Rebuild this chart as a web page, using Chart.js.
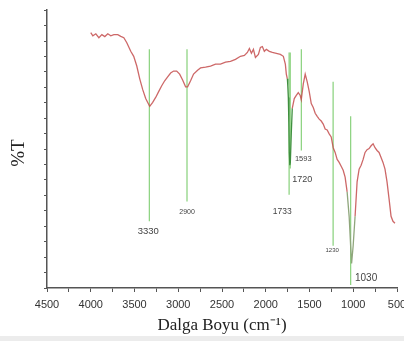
<!DOCTYPE html>
<html>
<head>
<meta charset="utf-8">
<script src="https://cdn.jsdelivr.net/npm/chart.js@4.4.1/dist/chart.umd.min.js"></script>
<style>
html, body { margin: 0; padding: 0; background: #fff; }
#wrap { width: 404px; height: 341px; position: relative; }
</style>
</head>
<body>
<div id="wrap"><canvas id="myChart"></canvas></div>
<script>
// FTIR spectrum, wavenumber (cm-1) vs %T
var wavenumbers = [4000, 3976, 3942, 3907, 3873, 3839, 3805, 3771, 3736, 3691, 3657, 3622, 3588, 3543, 3509, 3474, 3440, 3406, 3372, 3349,
    3326, 3292, 3258, 3224, 3189, 3155, 3121, 3087, 3053, 3018, 2984, 2950, 2916, 2893, 2859, 2825, 2779, 2745, 2688, 2631,
    2574, 2517, 2460, 2403, 2346, 2289, 2244, 2210, 2187, 2164, 2141, 2118, 2084, 2061, 2039, 2016, 1993, 1959, 1925, 1879,
    1833, 1799, 1776, 1765, 1753, 1748, 1742, 1736, 1731, 1725, 1719, 1708, 1697, 1674, 1651, 1628, 1606, 1594, 1571, 1549,
    1526, 1503, 1480, 1457, 1435, 1412, 1389, 1366, 1343, 1321, 1298, 1275, 1252, 1229, 1207, 1184, 1161, 1138, 1115, 1093,
    1070, 1047, 1030, 1019, 1001, 979, 956, 933, 910, 887, 865, 842, 819, 796, 773, 751, 728, 705, 682, 660,
    637, 614, 591, 568, 546, 523];
var transmittance = [91.9, 90.8, 91.5, 90.1, 91.2, 90.5, 91.5, 90.8, 91.2, 91.2, 90.6, 90.1, 88.3, 85.2, 83.4, 79.9, 75.3, 71.4, 68.2, 66.8,
    65.4, 66.8, 68.6, 70.7, 72.8, 74.6, 76.0, 77.4, 78.1, 78.1, 77.0, 74.9, 72.4, 72.4, 74.6, 77.0, 78.4, 79.2, 79.5, 79.9,
    80.6, 80.6, 81.3, 81.6, 82.3, 83.4, 83.7, 84.8, 86.2, 84.5, 85.9, 83.0, 84.1, 86.6, 86.9, 85.2, 85.9, 85.2, 84.8, 84.5,
    84.1, 83.4, 80.6, 77.0, 75.3, 72.8, 68.6, 59.7, 48.8, 44.2, 45.2, 55.8, 64.7, 68.2, 69.3, 70.3, 69.3, 67.8, 73.5, 77.0,
    74.2, 70.7, 66.4, 65.0, 62.9, 61.8, 60.8, 60.1, 59.0, 57.2, 56.9, 55.5, 54.4, 50.5, 48.8, 46.3, 45.2, 43.8, 42.4, 39.9,
    34.6, 25.8, 15.2, 8.8, 15.2, 25.8, 38.2, 42.8, 44.2, 46.3, 48.8, 49.8, 50.2, 51.2, 51.9, 50.5, 49.5, 48.8, 47.0, 45.2,
    42.8, 38.2, 32.2, 25.8, 24.0, 23.3];

// marked bands: marker line from top to bottom (%T), label text + position
var bandWn = [3330, 2900, 1733, 1720, 1593, 1230, 1030];
var bandTop = [85.9, 85.9, 84.8, 84.8, 85.9, 74.2, 61.8];
var bandBottom = [24.0, 31.1, 33.6, 43.0, 49.5, 15.2, 1.1];
var bandText = ['3330', '2900', '1733', '1720', '1593', '1230', '1030'];
var textWn = [3343, 2899, 1811, 1583, 1571, 1241, 853];
var textY = [20.5, 27.2, 27.6, 38.9, 46.3, 13.4, 3.5];
var textSize = [9.5, 7, 8.5, 9, 7.5, 6, 10];

var xTicks = [4500, 4000, 3500, 3000, 2500, 2000, 1500, 1000, 500];

var spectrum = wavenumbers.map(function (w, i) { return { x: w, y: transmittance[i] }; });

var datasets = [{
    label: 'spektrum',
    data: spectrum,
    borderColor: 'rgba(196, 78, 78, 0.85)',
    borderWidth: 1.3,
    pointRadius: 0,
    tension: 0,
    order: 0,
    segment: {
        borderColor: function (ctx) {
            var x = ctx.p0.parsed.x;
            if (x <= 1760 && x >= 1700) return '#3f8f3f';
            if (x <= 1075 && x >= 985) return '#8fa67c';
            return undefined;
        }
    }
}];

for (var i = 0; i < bandWn.length; i++) {
    datasets.push({
        label: bandText[i],
        data: [{ x: bandWn[i], y: bandTop[i] }, { x: bandWn[i], y: bandBottom[i] }],
        borderColor: 'rgba(125, 205, 110, 0.85)',
        borderWidth: 1.3,
        pointRadius: 0,
        order: 1
    });
}

// writes the band numbers next to the marker lines, and the %T axis name
var bandLabelPlugin = {
    id: 'bandLabels',
    afterDatasetsDraw: function (chart) {
        var c = chart.ctx;
        var sx = chart.scales.x, sy = chart.scales.y;
        c.save();
        c.fillStyle = '#444';
        c.textAlign = 'center';
        c.textBaseline = 'middle';
        for (var i = 0; i < bandText.length; i++) {
            c.font = textSize[i] + 'px "Liberation Sans", Arial, sans-serif';
            c.fillText(bandText[i], sx.getPixelForValue(textWn[i]), sy.getPixelForValue(textY[i]));
        }
        c.translate(19, 153);
        c.rotate(-Math.PI / 2);
        c.fillStyle = '#222';
        c.font = '19px "Liberation Serif", "Times New Roman", serif';
        c.fillText('%T', 0, 0);
        c.restore();
    }
};

// light grey strip along the bottom edge
var bottomStrip = {
    id: 'bottomStrip',
    beforeDraw: function (chart) {
        var c = chart.ctx;
        c.save();
        c.fillStyle = '#ececec';
        c.fillRect(0, 336, chart.width, chart.height - 336);
        c.restore();
    }
};

var ctx = document.getElementById('myChart').getContext('2d');
var myChart = new Chart(ctx, {
    type: 'line',
    data: { datasets: datasets },
    plugins: [bottomStrip, bandLabelPlugin],
    options: {
        responsive: true,
        maintainAspectRatio: false,
        animation: false,
        layout: { padding: { top: 5, right: 7, left: 0, bottom: 0 } },
        plugins: {
            legend: { display: false },
            tooltip: { enabled: false }
        },
        scales: {
            x: {
                type: 'linear',
                reverse: true,
                min: 500,
                max: 4500,
                afterFit: function (scale) {
                    scale.height = 53;
                    scale.paddingLeft = 0;
                    scale.paddingRight = 0;
                },
                grid: { drawOnChartArea: false, drawTicks: true, tickLength: 4, color: '#555', lineWidth: 1 },
                border: { display: true, color: '#555', width: 1.5 },
                ticks: {
                    stepSize: 250,
                    autoSkip: false,
                    maxRotation: 0,
                    padding: 6,
                    color: '#333',
                    font: { family: '"Liberation Sans", Arial, sans-serif', size: 11 },
                    callback: function (v) { return xTicks.indexOf(v) >= 0 ? String(v) : ''; }
                },
                title: {
                    display: true,
                    text: 'Dalga Boyu (cm⁻¹)',
                    color: '#222',
                    padding: { top: 0, bottom: 5 },
                    font: { family: '"Liberation Serif", "Times New Roman", serif', size: 17 }
                }
            },
            y: {
                min: 0,
                max: 100,
                afterFit: function (scale) { scale.width = 47; },
                afterBuildTicks: function (scale) {
                    var t = [];
                    for (var k = 0; k <= 18; k++) t.push({ value: k * 100 / 18 });
                    scale.ticks = t;
                },
                grid: { drawOnChartArea: false, drawTicks: true, tickLength: 3, color: '#555', lineWidth: 1 },
                border: { display: true, color: '#555', width: 1.5 },
                ticks: { autoSkip: false, callback: function () { return ''; } }
            }
        }
    }
});
</script>
</body>
</html>
